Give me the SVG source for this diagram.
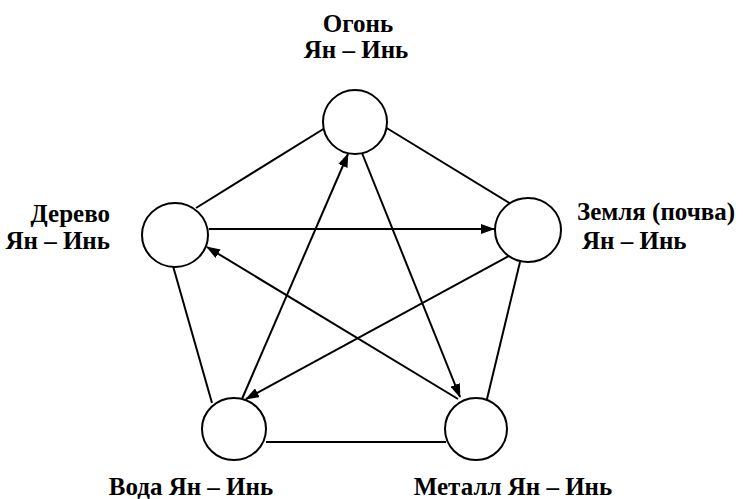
<svg xmlns="http://www.w3.org/2000/svg" width="743" height="499" viewBox="0 0 743 499">
<defs>
<style>
.n{fill:#fff;stroke:#000;stroke-width:2}
.e{stroke:#000;stroke-width:2;fill:none}
.a{stroke:#000;stroke-width:2;fill:none;marker-end:url(#ah)}
.t{font-family:'Liberation Serif',serif !important;font-weight:700;font-size:25px;fill:#000}
</style>
<marker id="ah" viewBox="0 0 14 10" refX="13" refY="5" markerWidth="14" markerHeight="10" markerUnits="userSpaceOnUse" orient="auto">
<path d="M0,0 L14,5 L0,10 Z" fill="#000"/>
</marker>
</defs>
<rect width="743" height="499" fill="#fff"/>
<g id="connectors">
<line class="e" x1="196" y1="208" x2="325" y2="128"/>
<line class="e" x1="385" y1="127" x2="511" y2="204"/>
<line class="e" x1="173" y1="266" x2="212" y2="403"/>
<line class="e" x1="520" y1="262" x2="487" y2="399"/>
<line class="e" x1="266" y1="442" x2="446" y2="442"/>
<line class="a" x1="209" y1="229" x2="494" y2="229"/>
<line class="a" x1="516" y1="252" x2="246" y2="399"/>
<line class="a" x1="242" y1="399" x2="348" y2="154"/>
<line class="a" x1="362" y1="153" x2="460" y2="397"/>
<line class="a" x1="458" y1="399" x2="207" y2="247"/>
</g>
<g id="fire"><ellipse class="n" cx="355" cy="122" rx="32" ry="32"/><text class="t" font-family="Liberation Serif" x="358" y="32" text-anchor="middle">Огонь</text><text class="t" font-family="Liberation Serif" x="356" y="58" text-anchor="middle">Ян – Инь</text></g>
<g id="wood"><ellipse class="n" cx="175" cy="235" rx="33" ry="32"/><text class="t" font-family="Liberation Serif" x="110" y="222" text-anchor="end">Дерево</text><text class="t" font-family="Liberation Serif" x="110" y="249" text-anchor="end">Ян – Инь</text></g>
<g id="earth"><ellipse class="n" cx="528" cy="230" rx="33" ry="32"/><text class="t" font-family="Liberation Serif" x="577" y="220">Земля (почва)</text><text class="t" font-family="Liberation Serif" x="582" y="249">Ян – Инь</text></g>
<g id="water"><ellipse class="n" cx="234" cy="429" rx="32" ry="31"/><text class="t" font-family="Liberation Serif" x="191" y="495" text-anchor="middle">Вода Ян – Инь</text></g>
<g id="metal"><ellipse class="n" cx="476" cy="429" rx="31" ry="31"/><text class="t" font-family="Liberation Serif" x="513" y="495" text-anchor="middle">Металл Ян – Инь</text></g>
</svg>
